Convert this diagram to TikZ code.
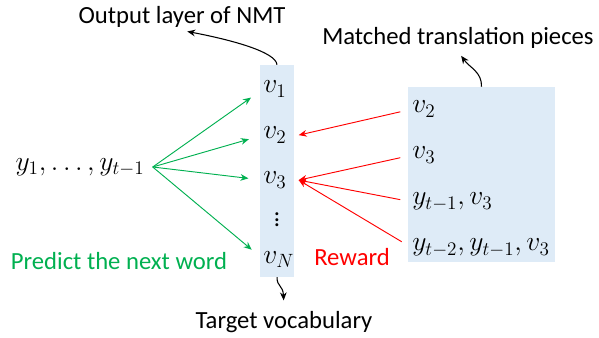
\documentclass[tikz,border=0pt]{standalone}
\usepackage{amsmath}
\usepackage{fontspec}
\setmainfont{Carlito}
\usepackage{tikz}
\usetikzlibrary{positioning,arrows.meta}

\definecolor{panelblue}{RGB}{222,235,247}
\definecolor{predictgreen}{RGB}{0,176,80}

\begin{document}
\begin{tikzpicture}[x=0.75pt,y=0.75pt,yscale=-1,xscale=1,
  lbl/.style={font=\fontsize{18.5}{22}\selectfont, inner sep=2pt},
  word/.style={font=\fontsize{20}{24}\selectfont, anchor=base west, inner sep=0pt},
  panel/.style={fill=panelblue, draw=none, inner sep=0pt},
  predict/.style={draw=predictgreen, line width=0.7pt, -{Stealth[length=6pt,width=5pt]}},
  reward/.style={draw=red, line width=0.7pt, -{Stealth[length=6pt,width=5pt]}},
  callout/.style={draw=black, line width=0.8pt, -{Stealth[length=6pt,width=5pt]}}]
\useasboundingbox (0,0) rectangle (599,338);

%Shape: Rectangle (output layer)
\node[panel, minimum width=25.5pt, minimum height=159pt] (layer) at (277,171) {};
%Shape: Rectangle (matched pieces)
\node[panel, minimum width=110.25pt, minimum height=131.25pt] (pieces) at (481.5,174.5) {};

% Text Node
\node[lbl] (outlbl) at (182,17) {Output layer of NMT};
% Text Node
\node[lbl] (matchlbl) at (458,38) {Matched translation pieces};
% Text Node
\node[lbl] (targetlbl) at (284,322) {Target vocabulary};
% Text Node
\node[lbl, text=predictgreen] (predictlbl) at (119,261) {Predict the next word};
% Text Node
\node[lbl, text=red] (rewardlbl) at (352,257) {Reward};

% Text Node
\node[lbl, font=\fontsize{20}{24}\selectfont] (hist) at (80,167) {$y_1,\ldots,y_{t-1}$};
\coordinate[right=4pt of hist] (fan);

% vocabulary entries
\node[word] (v1) at (263,93) {$v_1$};
\node[word] (v2) at (263,139) {$v_2$};
\node[word] (v3) at (263,184) {$v_3$};
\node[lbl] (vdots) at (277,216) {$\vdots$};
\node[word] (vN) at (263,263) {$v_N$};

% matched pieces
\node[word] (m1) at (412,113) {$v_2$};
\node[word] (m2) at (412,159) {$v_3$};
\node[word] (m3) at (412,205) {$y_{t-1},v_3$};
\node[word] (m4) at (412,251) {$y_{t-2},y_{t-1},v_3$};

\coordinate[right=9pt of v2] (hit2);
\coordinate[right=9pt of v3] (hit3);

% green arrows
\draw[predict, shorten >=11pt] (fan) -- (v1.west);
\draw[predict, shorten >=11pt] (fan) -- (v2.west);
\draw[predict, shorten >=11pt] (fan) -- (v3.west);
\draw[predict, shorten >=11pt] (fan) -- (vN.west);

% red arrows
\draw[reward, shorten <=9pt] (m1.west) -- (hit2);
\draw[reward, shorten <=9pt] (m2.west) -- (hit3);
\draw[reward, shorten <=9pt] (m3.west) -- (hit3);
\draw[reward, shorten <=9pt] (m4.west) -- (hit3);

% callouts
\draw[callout, shorten >=4pt] (layer.north) .. controls (276,52) and (232,40) .. (outlbl.south);
\draw[callout, shorten >=4pt] (pieces.north) .. controls (482,72) and (470,68) .. (matchlbl.south);
\draw[callout, shorten >=6pt] (layer.south) .. controls (277,287) and (283,285) .. (targetlbl.north);

\end{tikzpicture}
\end{document}
